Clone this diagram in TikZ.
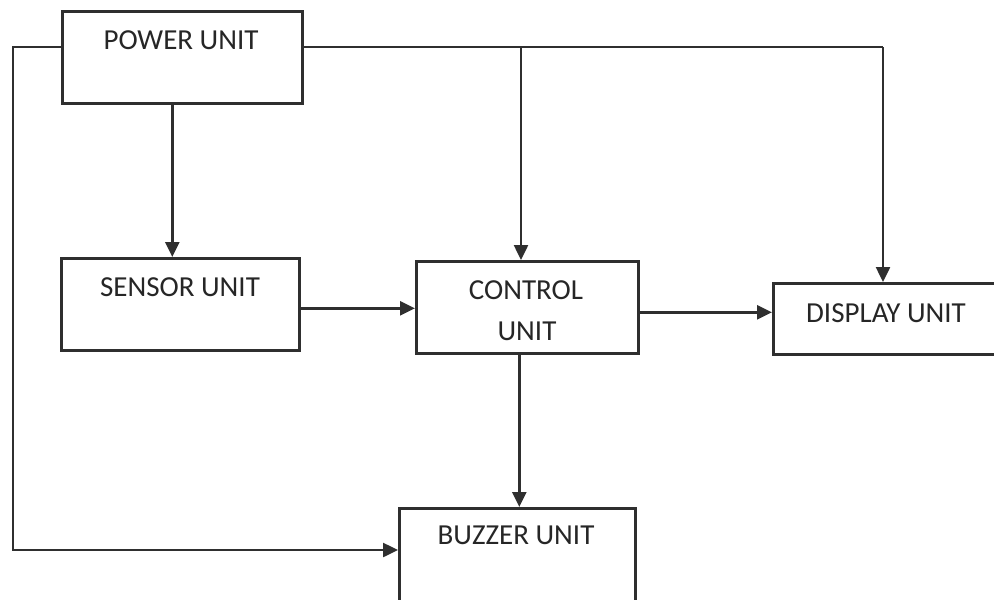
\documentclass[tikz,border=0pt]{standalone}
\usepackage{fontspec}
\setmainfont{Carlito}
\usetikzlibrary{arrows.meta}
\definecolor{ink}{HTML}{2F2F2F}
\definecolor{txt}{HTML}{262626}
\tikzset{
  unitbox/.style={draw=ink, line width=2.6pt, fill=white, rectangle, anchor=north west, inner sep=0pt},
  lbl/.style={text=txt, font=\fontsize{29}{34}\selectfont, inner sep=0pt, anchor=center},
  wire/.style={draw=ink, line width=2.5pt},
  arr/.style={wire, -{Triangle[length=15pt,width=14pt]}}
}
\begin{document}
\begin{tikzpicture}[x=1pt, y=-1pt]
  \fill[white] (0,0) rectangle (994,600);
  \clip (0,0) rectangle (994,600);

  % blocks
  \node[unitbox, minimum width=240pt, minimum height=92pt] (power)   at (61,10)  {};
  \node[unitbox, minimum width=238pt, minimum height=92pt] (sensor)  at (60,257) {};
  \node[unitbox, minimum width=222pt, minimum height=92pt] (control) at (415,260) {};
  \node[unitbox, minimum width=240pt, minimum height=71pt] (display) at (772,282) {};
  \node[unitbox, minimum width=236pt, minimum height=120pt] (buzzer) at (398,507) {};

  % labels
  \node[lbl] (tpower)   at (181,40)  {POWER UNIT};
  \node[lbl] (tsensor)  at (180,287) {SENSOR UNIT};
  \node[lbl] (tcontrol) at (526,290) {CONTROL};
  \node[lbl] (tunit)    at (527,331) {UNIT};
  \node[lbl] (tdisplay) at (886,313) {DISPLAY UNIT};
  \node[lbl] (tbuzzer)  at (516,535) {BUZZER UNIT};

  % supply bus corners
  \coordinate (lcorner) at (13,47);
  \coordinate (bcorner) at (13,550);
  \coordinate (tap)     at (521,47);
  \coordinate (rcorner) at (883,47);

  % supply lines
  \draw[arr] (power.west |- lcorner) -- (lcorner) -- (bcorner) -- (buzzer.west |- bcorner);
  \draw[wire] (power.east |- rcorner) -- (rcorner);
  \draw[arr] (rcorner) -- (display.north -| rcorner);
  \draw[arr] (tap) -- (control.north -| tap);
  \draw[arr] ([xshift=-10pt]power.south) -- ([xshift=-10pt]power.south |- sensor.north);

  % signal path
  \draw[arr] ([yshift=-4pt]sensor.east) -- ([yshift=-4pt]sensor.east -| control.west);
  \draw[arr] ([yshift=-5pt]control.east) -- ([yshift=-5pt]control.east -| display.west);
  \draw[arr] ([xshift=-8pt]control.south) -- ([xshift=-8pt]control.south |- buzzer.north);
\end{tikzpicture}
\end{document}
